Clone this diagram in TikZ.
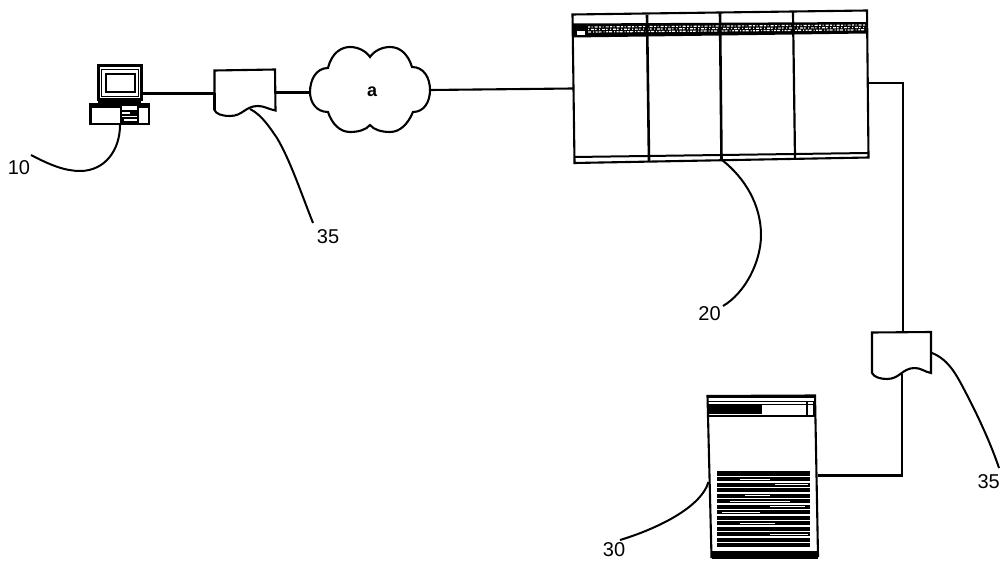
\documentclass[tikz,border=0pt]{standalone}
\usepackage{fontspec}
\setmainfont{Liberation Sans}
\tikzset{
  wire/.style={draw=black,line width=2.1pt},
  leader/.style={draw=black,line width=2pt},
  outline/.style={draw=black,line width=2.1pt,fill=white},
  lab/.style={font=\fontsize{20}{22}\selectfont,text=black,inner sep=0pt},
  anchorbox/.style={inner sep=0pt,minimum size=0pt,outer sep=0pt},
}
\begin{document}
\begin{tikzpicture}[x=1pt,y=-1pt]
\useasboundingbox[fill=white] (0,0) rectangle (1000,561);

% computer
\draw[line width=3pt] (98,66) rectangle (141,100);
\draw[line width=1pt] (101,69.5) rectangle (138,97);
\draw[line width=2.5pt] (106,74) rectangle (135,92);
\fill (98,100) rectangle (141,103);
\draw[outline] (90.5,104) rectangle (149,124);
\fill (90,103) rectangle (150,108);
\fill (120,104) rectangle (139,124);
\fill[white] (122,106) rectangle (137,110);
\fill[white] (122,112) rectangle (130,114);
\fill[white] (122,116) rectangle (137,117);
\fill[white] (124,119) rectangle (137,121);
\node[anchorbox] (pcport) at (142,93.5) {};
\node[anchorbox] (pcfoot) at (120,125) {};

% document 1
\draw[outline] (214.5,70.5) -- (275,69.5) -- (275.5,110.5) .. controls (268,109) and (264,106) .. (258,106)
  .. controls (245,106) and (243,116) .. (230,116) .. controls (222,116) and (216,114) .. (214.5,110) -- cycle;
\draw[line width=2.8pt] (214.5,93) -- (214.5,110);
\node[anchorbox] (docAl) at (214,93.5) {};
\node[anchorbox] (docAr) at (275,92.5) {};
\node[anchorbox] (docAb) at (250,109) {};

% cloud
\draw[outline] (328,68) .. controls (332,52) and (342,47) .. (350,47)
  .. controls (358,47) and (366,51) .. (370,57)
  .. controls (374,51) and (382,47) .. (390,47)
  .. controls (400,47) and (408,54) .. (412,67)
  .. controls (424,67) and (430,78) .. (430,90)
  .. controls (430,102) and (424,112) .. (413,112)
  .. controls (408,124) and (400,132) .. (390,132)
  .. controls (382,132) and (374,130) .. (370,125)
  .. controls (366,130) and (358,132) .. (350,132)
  .. controls (340,132) and (332,124) .. (328,112)
  .. controls (316,112) and (310,102) .. (310,92)
  .. controls (310,80) and (316,68) .. (328,68) -- cycle;
\node[anchorbox,font=\bfseries\fontsize{18}{20}\selectfont] (cloud) at (372,92) {a};
\node[anchorbox] (cloudl) at (310,92.5) {};
\node[anchorbox] (cloudr) at (430,90) {};

% server rack
\draw[outline] (572.5,14.5) -- (867,10.5) -- (868.5,157.5) -- (574.5,163) -- cycle;
\fill (573,23.5) -- (867,22) -- (867,33.5) -- (573,37.5) -- cycle;
\draw[white,line width=1.2pt,dash pattern=on 2pt off 1.5pt on 1pt off 2pt on 3pt off 1.5pt] (588,27) -- (866,25);
\draw[white,line width=1.2pt,dash pattern=on 1pt off 2pt on 3pt off 1pt on 1.5pt off 2.5pt] (588,29.5) -- (866,27.5);
\draw[white,line width=1.2pt,dash pattern=on 3pt off 2pt on 1pt off 1.5pt on 2pt off 1pt] (588,32) -- (866,29.8);
\draw[draw=black,fill=white,line width=1.2pt] (576,30) rectangle (586,35.5);
\draw[line width=2pt] (574,157) -- (868,153);
\draw[line width=2.6pt] (647,15) -- (649,161);
\draw[line width=2.6pt] (720,13) -- (721.5,160);
\draw[line width=2.2pt] (793,12) -- (795,158);
\node[anchorbox] (rackl) at (573,88.5) {};
\node[anchorbox] (rackr) at (868,83) {};
\node[anchorbox] (rackb) at (722,160) {};

% document 2
\draw[outline] (872,332.5) -- (931,332) -- (931,373) .. controls (925,372) and (921,368) .. (915,368)
  .. controls (902,368) and (900,379) .. (887,379) .. controls (880,379) and (874,377) .. (872,373) -- cycle;
\node[anchorbox] (docBt) at (903,332) {};
\node[anchorbox] (docBb) at (902,374) {};
\node[anchorbox] (docBr) at (932,353) {};

% terminal
\draw[outline] (707.5,396) -- (815,395.5) -- (818,556) -- (711.5,557) -- cycle;
\fill (707,394.5) rectangle (815,398);
\draw[line width=.9pt] (708,401) -- (815,401);
\fill (707,404) rectangle (762,414);
\draw[line width=1pt] (762,404) -- (815,404);
\draw[line width=1.8pt] (707,416) -- (815,416);
\draw[line width=1.4pt] (807,402) -- (807,416);
\draw[line width=1.2pt] (814,402) -- (814,416);
\fill (711.5,550.5) rectangle (818,558.5);
\fill (717,471) rectangle (809.5,547);
\foreach \y in {475.5,481,486.5,492,497.5,503,508.5,514,519.5,525,530.5,536,541.5}{
  \fill[white] (717,\y) rectangle (809.5,\y+1.5);
}
\foreach \xa/\xb/\y in {740/770/478.5,775/808/484,745/770/495,730/790/500.5,770/805/506,722/760/511.5,740/775/522.5,770/808/533.5}{
  \fill[white] (\xa,\y) rectangle (\xb,\y+.9);
}
\node[anchorbox] (terml) at (708.5,482) {};
\node[anchorbox] (termr) at (818,475.5) {};

% connectors
\draw[wire] (pcport) -- (docAl);
\draw[wire] (docAr) -- (cloudl);
\draw[wire] (cloudr) -- (rackl);
\draw[wire] (rackr) -| (docBt);
\draw[wire] (docBb) |- (termr);

% labels
\node[lab] (l10) at (19,167.5) {10};
\node[lab] (l35a) at (328,237) {35};
\node[lab] (l20) at (709.5,314) {20};
\node[lab,anchor=east] (l35b) at (1000,482) {35};
\node[lab] (l30) at (614,550) {30};

% leaders
\coordinate (a10) at (31,155);
\coordinate (a35) at (313,223);
\coordinate (a20) at (723,306);
\coordinate (a35b) at (999,468);
\coordinate (a30) at (620,540);
\draw[leader] (a10) .. controls (50,165) and (65,171) .. (80,171) .. controls (105,171) and (120,150) .. (pcfoot);
\draw[leader] (docAb) .. controls (262,115) and (270,128) .. (277,138) .. controls (290,160) and (300,190) .. (a35);
\draw[leader] (rackb) .. controls (745,178) and (761,205) .. (761,235) .. controls (761,262) and (745,293) .. (a20);
\draw[leader] (docBr) .. controls (950,360) and (958,378) .. (967,395) .. controls (980,420) and (992,447) .. (a35b);
\draw[leader] (a30) .. controls (650,531) and (700,510) .. (terml);
\end{tikzpicture}
\end{document}
